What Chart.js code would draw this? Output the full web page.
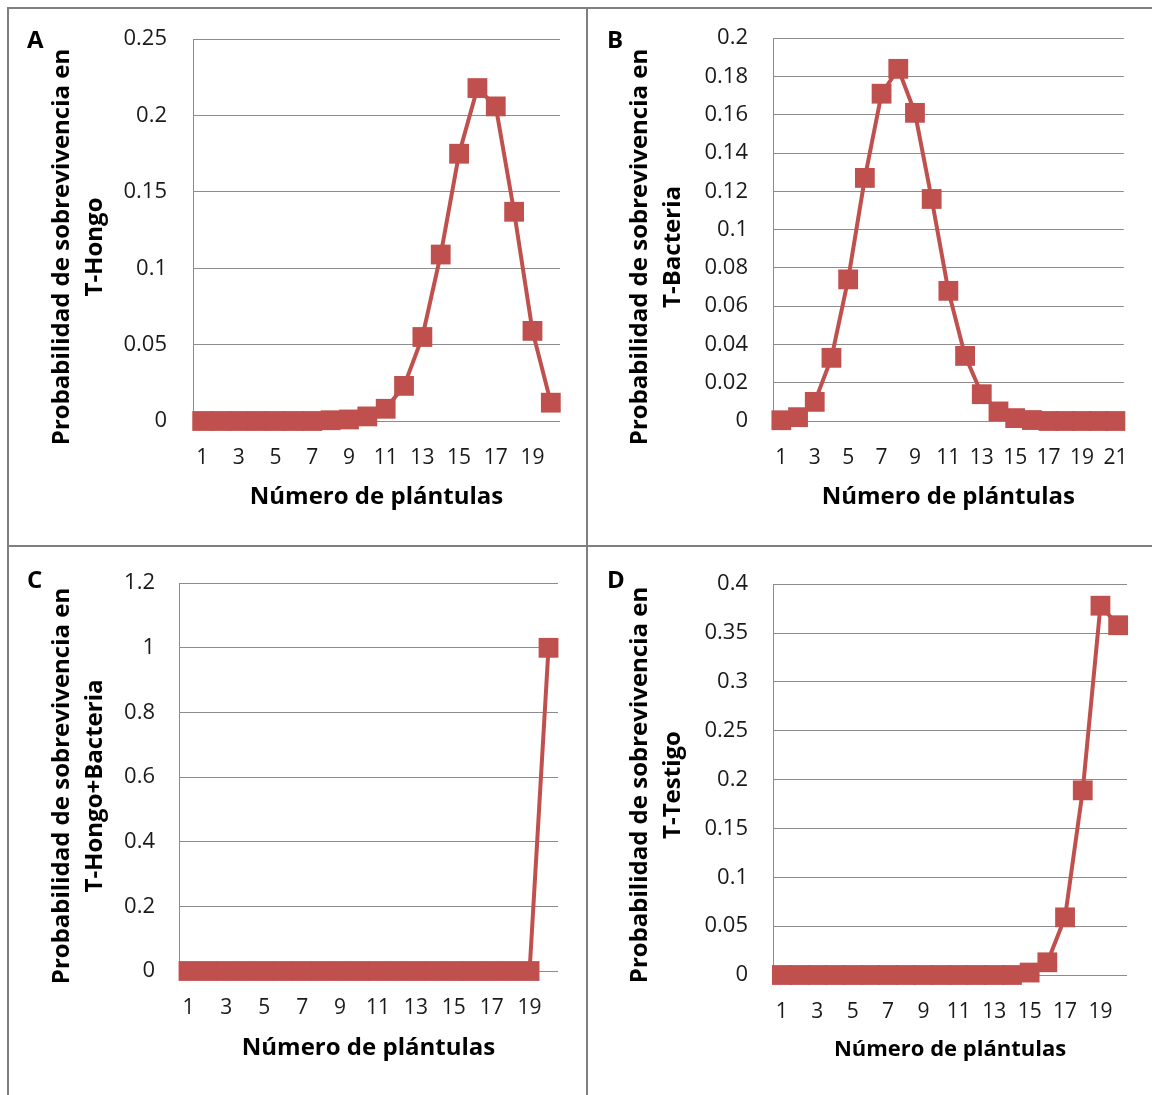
<!DOCTYPE html>
<html>
<head>
<meta charset="utf-8">
<script src="https://cdn.jsdelivr.net/npm/chart.js@4.4.1/dist/chart.umd.min.js"></script>
<style>
  body { margin: 0; background: #fff; width: 1152px; height: 1095px; position: relative; overflow: hidden; }
  canvas { position: absolute; }
  .ln { position: absolute; background: #7f7f7f; }
  .tag { position: absolute; font: bold 24px 'Open Sans', sans-serif; color: #000; line-height: 1; }
</style>
</head>
<body>
<div class="ln" style="left:7px;top:7px;width:1145px;height:2px"></div>
<div class="ln" style="left:7px;top:7px;width:2px;height:1088px"></div>
<div class="ln" style="left:586px;top:7px;width:2px;height:1088px"></div>
<div class="ln" style="left:7px;top:545px;width:1145px;height:2px"></div>

<canvas id="cA" width="586" height="545" style="left:0;top:0"></canvas>
<canvas id="cB" width="565" height="545" style="left:587px;top:0"></canvas>
<canvas id="cC" width="586" height="549" style="left:0;top:546px"></canvas>
<canvas id="cD" width="565" height="549" style="left:587px;top:546px"></canvas>

<div class="tag" style="left:27px;top:27px">A</div>
<div class="tag" style="left:607px;top:27px">B</div>
<div class="tag" style="left:27px;top:567px">C</div>
<div class="tag" style="left:607px;top:567px">D</div>

<script>
// x categories: número de plántulas
const plantulas20 = ['1','2','3','4','5','6','7','8','9','10','11','12','13','14','15','16','17','18','19','20'];
const plantulas21 = ['1','2','3','4','5','6','7','8','9','10','11','12','13','14','15','16','17','18','19','20','21'];

// probabilidad de sobrevivencia
const tHongo = [0, 0, 0, 0, 0, 0, 0, 0.0005, 0.001, 0.003, 0.008, 0.023, 0.055, 0.109, 0.175, 0.218, 0.206, 0.137, 0.059, 0.012];
const tBacteria = [0.0004, 0.002, 0.010, 0.033, 0.074, 0.127, 0.171, 0.184, 0.161, 0.116, 0.068, 0.034, 0.014, 0.005, 0.0015, 0.0005, 0, 0, 0, 0, 0];
const tHongoBacteria = [0, 0, 0, 0, 0, 0, 0, 0, 0, 0, 0, 0, 0, 0, 0, 0, 0, 0, 0, 1];
const tTestigo = [0, 0, 0, 0, 0, 0, 0, 0, 0, 0, 0, 0, 0, 0, 0.0025, 0.013, 0.059, 0.189, 0.378, 0.358];

// y tick values
const ticksA = [0, 0.05, 0.1, 0.15, 0.2, 0.25];
const ticksB = [0, 0.02, 0.04, 0.06, 0.08, 0.1, 0.12, 0.14, 0.16, 0.18, 0.2];
const ticksC = [0, 0.2, 0.4, 0.6, 0.8, 1, 1.2];
const ticksD = [0, 0.05, 0.1, 0.15, 0.2, 0.25, 0.3, 0.35, 0.4];

const red = '#C0504D';
const gridGray = '#8c8c8c';
const fam = "'Open Sans', sans-serif";

// excel centres the rotated axis title on the whole panel, not on the plot area,
// so it is drawn here instead of through scale.title
const yTitlePlugin = {
  id: 'yTitle',
  afterDraw(chart, args, o) {
    const ctx = chart.ctx;
    ctx.save();
    ctx.fillStyle = '#000';
    ctx.font = 'bold 24px ' + fam;
    ctx.textAlign = 'center';
    ctx.textBaseline = 'middle';
    o.lines.forEach((t, i) => {
      ctx.save();
      ctx.translate(o.x + i * o.gap, o.y);
      ctx.rotate(-Math.PI / 2);
      ctx.fillText(t, 0, 0);
      ctx.restore();
    });
    ctx.restore();
  }
};

function panel(id, labels, values, yTicks, yTitle, p) {
  const xTitleSize = p.xTitleSize || 24;
  const padLeft = 30;
  const xBottom = p.xTitleY + xTitleSize * 1.2 / 2;
  const cv = document.getElementById(id);
  new Chart(cv, {
    type: 'line',
    plugins: [yTitlePlugin],
    data: {
      labels: labels,
      datasets: [{
        data: values,
        borderColor: red,
        backgroundColor: red,
        borderWidth: 4,
        tension: 0,
        pointStyle: 'rect',
        pointRadius: 14,
        pointHoverRadius: 14,
        pointBackgroundColor: red,
        pointBorderColor: red,
        pointBorderWidth: 0,
        clip: false
      }]
    },
    options: {
      responsive: false,
      animation: false,
      devicePixelRatio: 1,
      layout: { padding: { left: padLeft, top: p.top, right: cv.width - p.right, bottom: cv.height - xBottom } },
      plugins: {
        legend: { display: false },
        tooltip: { enabled: false },
        yTitle: { lines: yTitle, x: p.title1X, y: p.titleY, gap: 33.5 }
      },
      scales: {
        x: {
          type: 'category',
          offset: true,
          grid: { display: false, drawTicks: false },
          border: { display: false },
          ticks: {
            autoSkip: false, maxRotation: 0, padding: p.xTickPad,
            color: '#1a1a1a', font: { family: fam, size: 21 },
            callback: function (v, i) { return i % 2 === 0 ? this.getLabelForValue(v) : ''; }
          },
          title: { display: true, text: 'Número de plántulas', color: '#000', padding: 0,
                   font: { family: fam, size: xTitleSize, weight: 'bold', lineHeight: 1.2 } },
          afterFit: s => { s.height = xBottom - p.bottom; }
        },
        y: {
          min: 0, max: yTicks[yTicks.length - 1],
          grid: { color: gridGray, lineWidth: 1, drawTicks: false },
          border: { display: true, color: gridGray, width: 1 },
          afterBuildTicks: s => { s.ticks = yTicks.map(v => ({ value: v })); },
          ticks: {
            padding: p.yTickPad, color: '#1a1a1a', font: { family: fam, size: 22 },
            callback: v => String(+v.toFixed(4))
          },
          title: { display: false },
          afterFit: s => { s.width = p.left - padLeft; }
        }
      }
    }
  });
}

panel('cA', plantulas20, tHongo, ticksA,
  ['Probabilidad de sobrevivencia en', 'T-Hongo'],
  { left: 193, right: 560, top: 37, bottom: 421, title1X: 62, titleY: 247, yTickPad: 26, xTickPad: 24, xTitleY: 497 });
panel('cB', plantulas21, tBacteria, ticksB,
  ['Probabilidad de sobrevivencia en', 'T-Bacteria'],
  { left: 186, right: 540, top: 37, bottom: 421, title1X: 53, titleY: 247, yTickPad: 25, xTickPad: 24, xTitleY: 497 });
panel('cC', plantulas20, tHongoBacteria, ticksC,
  ['Probabilidad de sobrevivencia en', 'T-Hongo+Bacteria'],
  { left: 179, right: 558, top: 31, bottom: 425, title1X: 62, titleY: 240, yTickPad: 24, xTickPad: 24, xTitleY: 502 });
panel('cD', plantulas20, tTestigo, ticksD,
  ['Probabilidad de sobrevivencia en', 'T-Testigo'],
  { left: 186, right: 540, top: 31, bottom: 429, title1X: 53, titleY: 239, yTickPad: 25, xTickPad: 24, xTitleY: 504, xTitleSize: 22 });
</script>
</body>
</html>
